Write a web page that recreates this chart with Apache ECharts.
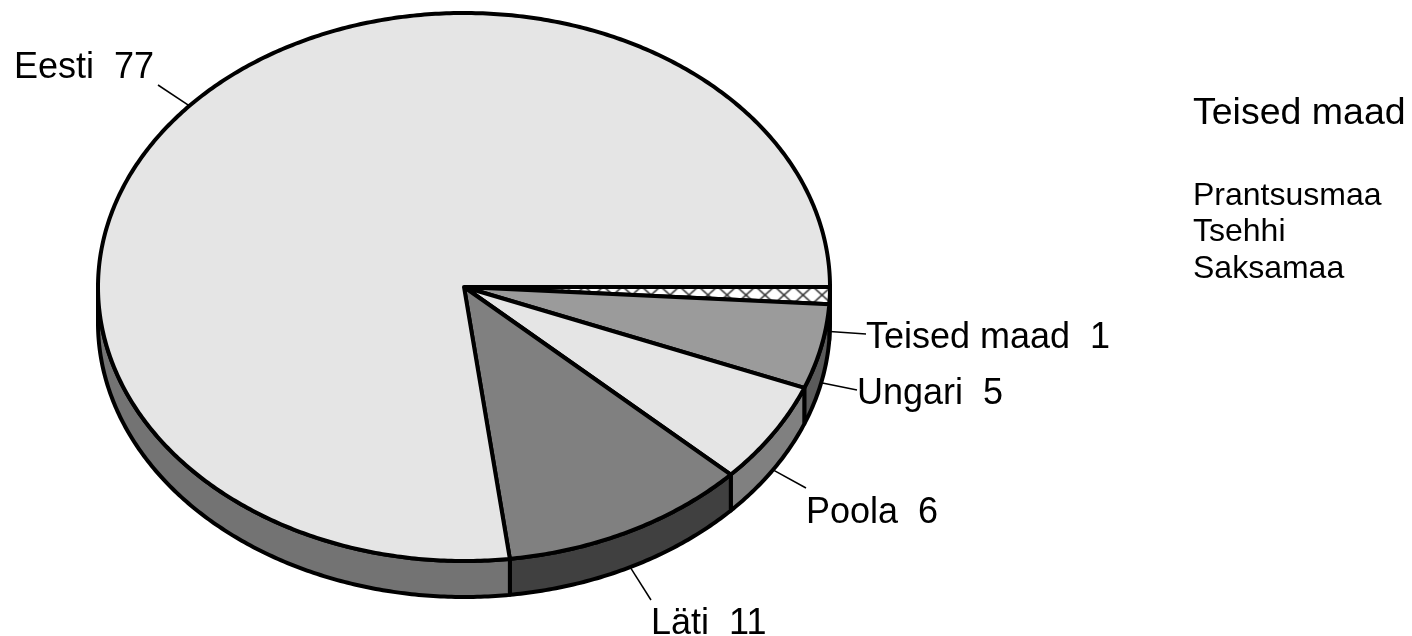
<!DOCTYPE html>
<html>
<head>
<meta charset="utf-8">
<title>Eesti 77</title>
<script src="https://cdn.jsdelivr.net/npm/echarts@6/dist/echarts.min.js"></script>
<style>
    html, body { margin: 0; padding: 0; background: #fff; }
    #chart { width: 1412px; height: 636px; }
</style>
</head>
<body>
<div id="chart"></div>
<script>
    // slices clockwise from 3 o'clock
    var countries = ['Teised maad', 'Ungari', 'Poola', 'Läti', 'Eesti'];
    var shares = [1, 5, 6, 11, 77];
    var noteTitle = 'Teised maad';
    var noteItems = ['Prantsusmaa', 'Tsehhi', 'Saksamaa'];

    var topColors = ['hatch', '#9b9b9b', '#e5e5e5', '#808080', '#e5e5e5'];
    var wallColors = ['#5a5a5a', '#5a5a5a', '#808080', '#404040', '#737373'];
    // where each label's text starts: x, baseline y, end of the leader line
    var labelPos = [[866, 347, 866, 334], [857, 403, 857, 390], [806, 522, 806, 488], [651, 633, 651, 600], [14, 77, 158, 85]];

    var cx = 464, cy = 287, rx = 366, ry = 274, depth = 36;
    var total = shares.reduce(function (a, b) { return a + b }, 0);

    function hatchImage() {
        var c = document.createElement('canvas');
        c.width = 19;
        c.height = 17;
        var g = c.getContext('2d');
        g.fillStyle = '#fff';
        g.fillRect(0, 0, 19, 17);
        g.strokeStyle = '#333';
        g.lineWidth = 1.6;
        g.beginPath();
        g.moveTo(0, 0); g.lineTo(19, 17);
        g.moveTo(19, 0); g.lineTo(0, 17);
        g.stroke();
        return c;
    }
    var hatch = { image: hatchImage(), repeat: 'repeat', x: 14.5, y: 14.5 };

    function angle(v) { return v / total * Math.PI * 2 }
    function rim(t, down) { return [cx + rx * Math.cos(t), cy + ry * Math.sin(t) + (down || 0)] }
    function startOf(i) {
        var s = 0;
        for (var k = 0; k < i; k++) s += shares[k];
        return s;
    }
    function arc(a, b, down) {
        var pts = [];
        var n = Math.max(2, Math.ceil((b - a) / 0.01));
        for (var k = 0; k <= n; k++) pts.push(rim(a + (b - a) * k / n, down));
        return pts;
    }

    function renderWall(params) {
        var i = params.dataIndex;
        var a = angle(startOf(i));
        var b = Math.min(angle(startOf(i) + shares[i]), Math.PI);
        if (a >= b) return;
        return {
            type: 'polygon',
            shape: { points: arc(a, b, 0).concat(arc(a, b, depth).reverse()) },
            style: { fill: wallColors[i], stroke: '#000', lineWidth: 4, lineJoin: 'round' }
        };
    }

    function renderTop(params) {
        var i = params.dataIndex;
        var pts = arc(angle(startOf(i)), angle(startOf(i) + shares[i]), 0);
        pts.unshift([cx, cy]);
        return {
            type: 'polygon',
            shape: { points: pts },
            style: {
                fill: topColors[i] === 'hatch' ? hatch : topColors[i],
                stroke: '#000', lineWidth: 4, lineJoin: 'round'
            }
        };
    }

    function renderLabel(params) {
        var i = params.dataIndex;
        var pos = labelPos[i];
        var t = angle(startOf(i) + shares[i] / 2);
        // the leader starts on the wall for the front slices, on the rim for the back ones
        var from = rim(t, Math.sin(t) > 0 ? depth : 0);
        return {
            type: 'group',
            children: [{
                type: 'line',
                shape: { x1: from[0], y1: from[1], x2: pos[2], y2: pos[3] },
                style: { stroke: '#000', lineWidth: 1.5 }
            }, {
                type: 'text',
                style: {
                    text: countries[i] + '  ' + shares[i],
                    x: pos[0], y: pos[1] + 9,
                    verticalAlign: 'bottom',
                    font: '36px "Liberation Sans"',
                    fill: '#000'
                }
            }]
        };
    }

    function noteText(text, y, size) {
        return {
            type: 'text', left: 1193, top: y,
            style: { text: text, font: size + 'px "Liberation Sans"', fill: '#000' }
        };
    }

    var notes = [noteText(noteTitle, 95, 37.5)];
    noteItems.forEach(function (item, k) {
        notes.push(noteText(item, 180 + k * 36.5, 32));
    });

    var chart = echarts.init(document.getElementById('chart'));
    chart.setOption({
        animation: false,
        graphic: notes,
        series: [
            { type: 'custom', coordinateSystem: 'none', data: shares, renderItem: renderWall, z: 1, silent: true },
            { type: 'custom', coordinateSystem: 'none', data: shares, renderItem: renderTop, z: 2, silent: true },
            { type: 'custom', coordinateSystem: 'none', data: shares, renderItem: renderLabel, z: 3, silent: true }
        ]
    });
</script>
</body>
</html>
